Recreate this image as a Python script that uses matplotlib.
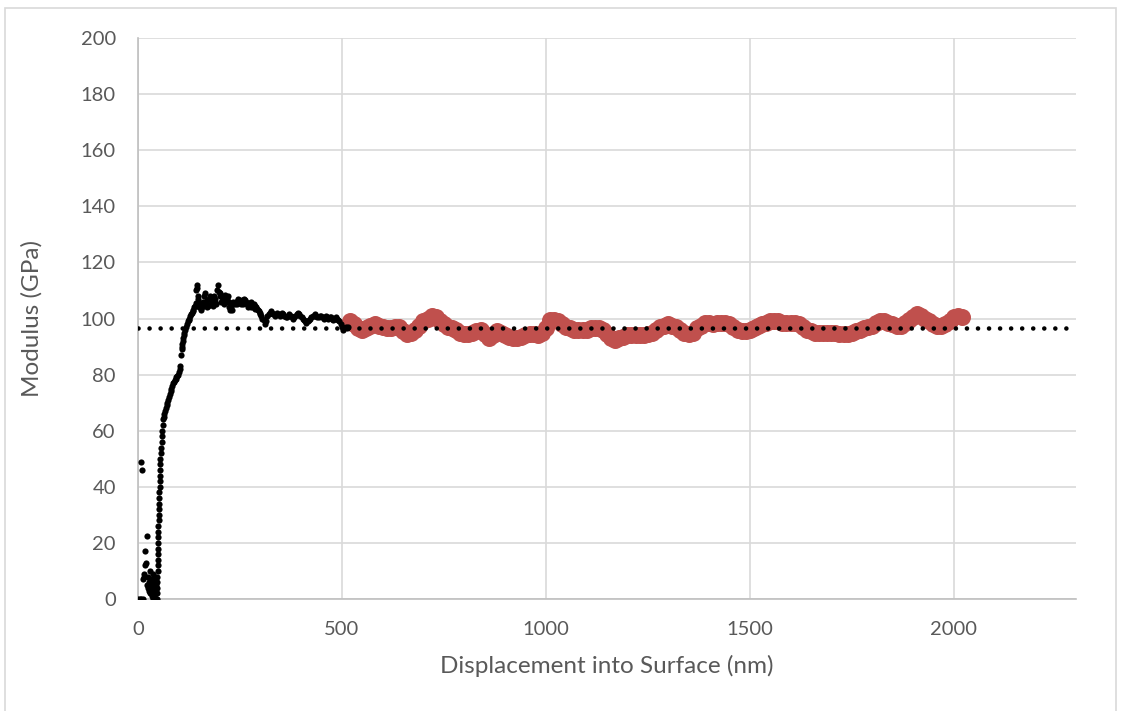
import matplotlib
matplotlib.use("Agg")
import matplotlib.pyplot as plt
from matplotlib.patches import Rectangle

plt.rcParams['font.family'] = ['Lato', 'DejaVu Sans']

# black series: full indentation curve (nm, GPa)
bx = [0, 4, 8, 12, 8, 9, 12, 14, 15, 16, 18, 20, 21, 22, 24, 25, 26, 28, 29, 30,
      31, 33, 34, 35, 36, 37, 38, 39, 40, 41, 42, 43, 44, 45,
      46, 46, 47, 47, 47, 48, 48, 48, 49, 49, 49, 50, 50, 50, 51, 51, 51, 52, 52, 52,
      53, 53, 53, 54, 54, 55, 56, 57, 58, 59, 60, 61, 62,
      63, 64, 66, 68, 70, 72, 74, 76, 78, 80, 82, 84, 86, 88, 90, 92, 94, 96, 98, 100, 102, 104,
      106, 107, 108, 109, 110, 111, 112, 114, 116, 118, 120, 122, 124, 126, 128, 130, 132, 134,
      136, 138, 140, 142, 143, 144, 145,
      146, 148, 150, 152, 154, 156, 158, 160, 162, 164, 166, 168, 170, 172, 174, 176, 178, 180,
      182, 184, 186, 188, 190, 192, 194, 196, 198, 200, 202, 204, 206, 208, 210, 212, 214, 216,
      218, 220, 222, 224, 226, 228, 230, 232, 234, 236, 238, 240, 242, 244, 246, 248, 250, 252,
      254, 256, 258, 260, 262, 264, 266, 268, 270, 272, 274, 276, 278, 280, 282, 284, 286, 288,
      290, 292, 294, 296, 298, 300,
      302, 305, 308, 311, 314, 317, 320, 323, 326, 329, 332, 335, 338, 341, 344, 347, 350, 353,
      356, 359, 362, 365, 368, 371, 374, 377, 380, 383, 386, 389, 392, 395, 398, 401, 404, 407,
      410, 413, 416, 419, 422, 425, 428, 431, 434, 437, 440, 443, 446, 449, 452, 455, 458, 461,
      464, 467, 470, 473, 476, 479, 482, 485, 488, 491, 494, 497, 500, 503, 506, 509, 512, 515]
by = [0, 0, 0, 0, 49, 46, 7, 8, 9, 12, 17, 13, 22.5, 5, 8, 4, 6, 3, 10, 2,
      5, 7, 1, 4, 9, 0, 3, 6, 1, 8, 2, 0, 5, 0,
      0, 2, 4, 6, 8, 10, 12, 14, 16, 18, 20, 22, 24, 26, 28, 30, 32, 34, 36, 38,
      40, 42, 44, 46, 48, 50, 52, 54, 56, 58, 60, 62, 64,
      65, 66, 67, 68, 69, 70, 71, 72, 73, 74, 75, 76, 77, 77.5, 78, 78.5, 79, 79.5, 80, 81, 82, 83,
      87, 89, 90, 91, 92, 93, 94, 95, 96, 97, 98, 99, 99.5, 100, 101, 101.5, 102, 102.5,
      103, 104, 104.5, 105.5, 110, 112, 111,
      107, 108, 104, 105, 103, 105.5, 104, 106, 108, 109, 105, 106.5, 104, 104.5, 107, 108, 105, 107.5,
      106, 104.5, 108, 106, 107, 105, 110, 112, 109.5, 108, 109, 106, 107.5, 107, 105, 108, 108.5, 106,
      107, 108, 106, 104, 103, 104.5, 103, 105, 106, 105.5, 105, 106, 105, 106.5, 107, 106.5, 106, 105,
      106.5, 106, 105, 107, 106.5, 105.5, 106, 105, 104, 105.5, 105, 104, 106, 105, 104, 105, 104.5, 103.5,
      104, 103.5, 103, 102.5, 102, 101.5,
      101, 100, 99.5, 98, 99, 101, 101.5, 102, 102.5, 102, 101.5, 101, 101.5, 102, 101.5, 101, 101.5, 102,
      101.5, 101, 100.5, 100.5, 101, 101.5, 101, 100.5, 100, 100.5, 101, 101.5, 102, 101.5, 101, 100.5, 100, 99.5,
      99, 98.5, 99, 99.5, 100, 100.5, 101, 101, 101.5, 101, 100.5, 100.5, 101, 101, 100.5, 100, 100.5, 101,
      100.5, 100, 100.5, 100.5, 100, 99.5, 100, 100.5, 100, 99.5, 99, 98, 97, 96, 96.5, 97, 96.5, 97]

# red series: averaging range
rx = [520, 530, 540, 550, 560, 570, 580, 590, 600, 610, 620, 630, 640, 650, 660, 670, 680,
      690, 700, 710, 720, 730, 740, 750, 760, 770, 780, 790, 800, 810, 820, 830, 840, 850,
      860, 870, 880, 890, 900, 910, 920, 930, 940, 950, 960, 970, 980, 990, 1000, 1010,
      1020, 1030, 1040, 1050, 1060, 1070, 1080, 1090, 1100, 1110, 1120, 1130, 1140, 1150,
      1160, 1170, 1180, 1190, 1200, 1210, 1220, 1230, 1240, 1250, 1260, 1270, 1280, 1290,
      1300, 1310, 1320, 1330, 1340, 1350, 1360, 1370, 1380, 1390, 1400, 1410, 1420, 1430,
      1440, 1450, 1460, 1470, 1480, 1490, 1500, 1510, 1520, 1530, 1540, 1550, 1560, 1570,
      1580, 1590, 1600, 1610, 1620, 1630, 1640, 1650, 1660, 1670, 1680, 1690, 1700, 1710,
      1720, 1730, 1740, 1750, 1760, 1770, 1780, 1790, 1800, 1810, 1820, 1830, 1840, 1850,
      1860, 1870, 1880, 1890, 1900, 1910, 1920, 1930, 1940, 1950, 1960, 1970, 1980, 1990,
      2000, 2010, 2020]
ry = [99, 98, 96.5, 96, 96.5, 97.5, 98, 97.5, 97, 96.5, 96.5, 97, 97, 95.5, 94.5, 95, 96,
      97.5, 99, 100, 101, 100.5, 99, 98, 97, 96.5, 96, 95, 94.5, 94.5, 95, 95.5, 96, 94.5,
      93, 94, 95.5, 95, 94, 93.5, 93, 93, 93.5, 94, 94.5, 94.5, 94, 95, 96.5, 99.5,
      99.5, 99, 98, 97, 96.5, 96, 96, 96, 96, 96.5, 96.5, 96.5, 96, 94.5,
      93, 92.5, 93, 93.5, 94, 94, 94, 94, 94, 94.5, 95, 96, 97, 97.5,
      98, 97.5, 97, 96, 95, 94.5, 95, 96.5, 97.5, 98.5, 98.5, 98, 98.5, 98.5,
      98.5, 98, 97, 96, 95.5, 95.5, 96, 96.5, 97.5, 98, 98.5, 99, 99, 99,
      98.5, 98.5, 98.5, 98.5, 98, 97, 96, 95.5, 95, 95, 95, 95, 95, 95,
      94.5, 94.5, 94.5, 95, 95.5, 96, 96.5, 97, 97.5, 98.5, 99, 99, 98.5, 98,
      97.5, 97.5, 98.5, 99.5, 100.5, 101.5, 101, 100, 99, 98, 97.5, 97.5, 98, 99,
      100.5, 101, 100.5]

trend_x = [0, 2300]
trend_y = [96.5, 96.5]

xticks = [0, 500, 1000, 1500, 2000]
yticks = list(range(0, 201, 20))

fig = plt.figure(figsize=(11.21, 7.11), dpi=100)
ax = fig.add_axes([138 / 1121, 1 - 599 / 711, (1076 - 138) / 1121, (599 - 38) / 711])

ax.scatter(rx, ry, s=150, color='#C0504D', zorder=3, linewidths=0)
ax.scatter(bx, by, s=20, color='black', zorder=4, linewidths=0)
ax.plot(trend_x, trend_y, color='black', lw=3.3, dashes=(0.01, 2.4),
        dash_capstyle='round', zorder=5)

ax.set_xlim(0, 2300)
ax.set_ylim(0, 200)
ax.set_xticks(xticks)
ax.set_yticks(yticks)
ax.grid(True, color='#D9D9D9', lw=1.2)
ax.set_axisbelow(True)
for s in ['top', 'right']:
    ax.spines[s].set_visible(False)
for s in ['left', 'bottom']:
    ax.spines[s].set_color('#BFBFBF')
    ax.spines[s].set_linewidth(1.2)
ax.tick_params(length=0, labelsize=14.5, labelcolor='#595959')
ax.tick_params(axis='x', pad=16)
ax.tick_params(axis='y', pad=16)
ax.set_xlabel('Displacement into Surface (nm)', fontsize=17.5, color='#595959', labelpad=12)
ax.set_ylabel('Modulus (GPa)', fontsize=17.5, color='#595959', labelpad=27)

fig.patches.append(Rectangle((5 / 1121, -0.02), (1116 - 5) / 1121, 1.02 - 8 / 711,
                             transform=fig.transFigure, fill=False,
                             edgecolor='#D9D9D9', lw=1.2))

fig.savefig('out.png', dpi=100)
